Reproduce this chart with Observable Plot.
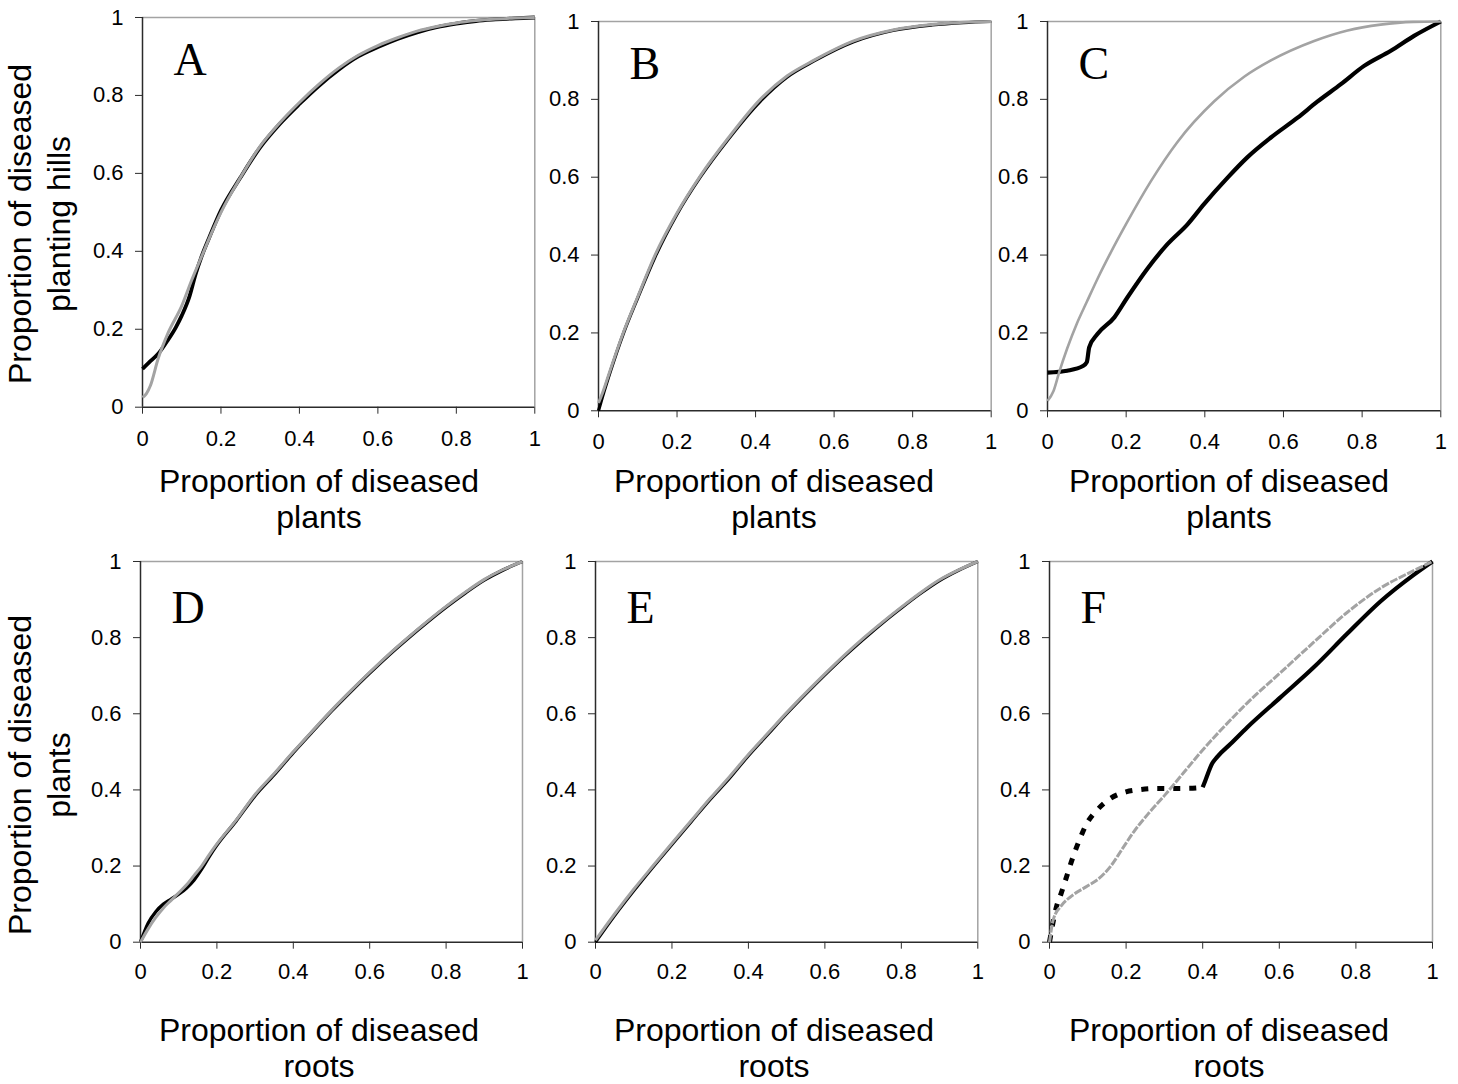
<!DOCTYPE html>
<html><head><meta charset="utf-8">
<script src="https://cdn.jsdelivr.net/npm/d3@7"></script>
<script src="https://cdn.jsdelivr.net/npm/@observablehq/plot@0.6"></script>
<style>
body{margin:0;background:#fff;}
#fig{position:relative;width:1458px;height:1084px;background:#fff;overflow:hidden;}
#fig svg{position:absolute;}
</style></head><body><div id="fig"></div>
<script>
// ---------- data ----------
const ticks = [0, 0.2, 0.4, 0.6, 0.8, 1];
const panelLetters = ["A", "B", "C", "D", "E", "F"];
const xTitleTop = ["Proportion of diseased", "plants"];
const xTitleBottom = ["Proportion of diseased", "roots"];
const yTitleTop = ["Proportion of diseased", "planting hills"];
const yTitleBottom = ["Proportion of diseased", "plants"];

const A_black = [[0,0.098],[0.02,0.118],[0.04,0.137],[0.064,0.171],[0.085,0.205],[0.1,0.235],[0.12,0.285],[0.135,0.34],[0.15,0.385],[0.17,0.435],[0.2,0.505],[0.25,0.59],[0.3,0.667],[0.35,0.727],[0.4,0.778],[0.45,0.825],[0.5,0.866],[0.55,0.9],[0.6,0.924],[0.65,0.945],[0.7,0.962],[0.75,0.975],[0.8,0.984],[0.85,0.991],[0.9,0.995],[0.95,0.998],[1,1]];
const A_gray = [[0,0.025],[0.01,0.035],[0.02,0.055],[0.04,0.125],[0.065,0.19],[0.1,0.26],[0.125,0.325],[0.15,0.385],[0.175,0.445],[0.2,0.5],[0.25,0.59],[0.3,0.67],[0.35,0.73],[0.4,0.782],[0.45,0.829],[0.5,0.87],[0.55,0.903],[0.6,0.928],[0.65,0.948],[0.7,0.965],[0.75,0.977],[0.8,0.986],[0.85,0.992],[0.9,0.996],[0.95,0.999],[1,1]];

const B_black = [[0,0],[0.01,0.035],[0.03,0.1],[0.064,0.2],[0.1,0.29],[0.144,0.395],[0.2,0.505],[0.259,0.6],[0.33,0.697],[0.412,0.795],[0.48,0.857],[0.548,0.898],[0.65,0.948],[0.75,0.977],[0.85,0.991],[0.93,0.997],[1,1]];
const B_gray = [[0,0.02],[0.01,0.045],[0.03,0.105],[0.064,0.203],[0.1,0.293],[0.144,0.4],[0.2,0.508],[0.259,0.603],[0.33,0.7],[0.412,0.8],[0.48,0.86],[0.548,0.9],[0.65,0.95],[0.75,0.978],[0.85,0.992],[0.93,0.998],[1,1]];

const C_black = [[0,0.098],[0.05,0.103],[0.09,0.115],[0.1,0.125],[0.106,0.163],[0.127,0.197],[0.17,0.24],[0.203,0.291],[0.254,0.365],[0.305,0.428],[0.356,0.479],[0.398,0.531],[0.458,0.599],[0.508,0.651],[0.568,0.702],[0.636,0.753],[0.686,0.794],[0.746,0.839],[0.805,0.886],[0.873,0.925],[0.932,0.963],[1,1]];
const C_gray = [[0,0.025],[0.015,0.05],[0.03,0.1],[0.05,0.16],[0.075,0.225],[0.1,0.28],[0.13,0.345],[0.16,0.405],[0.2,0.48],[0.263,0.59],[0.33,0.69],[0.424,0.795],[0.5,0.858],[0.568,0.9],[0.678,0.95],[0.763,0.977],[0.847,0.992],[0.93,0.999],[1,1]];

const D_black = [[0,0],[0.02,0.05],[0.04,0.08],[0.06,0.1],[0.08,0.113],[0.1,0.126],[0.12,0.142],[0.14,0.163],[0.16,0.192],[0.18,0.225],[0.2,0.255],[0.25,0.318],[0.3,0.385],[0.35,0.44],[0.4,0.498],[0.45,0.553],[0.5,0.607],[0.55,0.658],[0.6,0.707],[0.65,0.754],[0.7,0.798],[0.75,0.84],[0.8,0.88],[0.85,0.917],[0.9,0.951],[0.95,0.978],[1,1]];
const D_gray = [[0,0],[0.02,0.035],[0.04,0.065],[0.06,0.09],[0.08,0.11],[0.1,0.13],[0.12,0.15],[0.14,0.175],[0.16,0.2],[0.18,0.23],[0.2,0.258],[0.25,0.32],[0.3,0.388],[0.35,0.443],[0.4,0.5],[0.45,0.555],[0.5,0.609],[0.55,0.66],[0.6,0.709],[0.65,0.756],[0.7,0.8],[0.75,0.842],[0.8,0.882],[0.85,0.919],[0.9,0.953],[0.95,0.979],[1,1]];

const E_black = [[0,0],[0.05,0.07],[0.1,0.135],[0.15,0.197],[0.2,0.257],[0.25,0.316],[0.3,0.375],[0.35,0.43],[0.4,0.49],[0.45,0.545],[0.5,0.6],[0.55,0.652],[0.6,0.702],[0.65,0.75],[0.7,0.795],[0.75,0.838],[0.8,0.878],[0.85,0.916],[0.9,0.95],[0.95,0.977],[1,1]];
const E_gray = [[0,0.005],[0.05,0.074],[0.1,0.139],[0.15,0.2],[0.2,0.26],[0.25,0.319],[0.3,0.378],[0.35,0.434],[0.4,0.493],[0.45,0.548],[0.5,0.603],[0.55,0.655],[0.6,0.705],[0.65,0.753],[0.7,0.798],[0.75,0.84],[0.8,0.88],[0.85,0.918],[0.9,0.952],[0.95,0.978],[1,1]];

const F_blackDashed = [[0,0],[0.006,0.035],[0.019,0.096],[0.03,0.127],[0.043,0.167],[0.057,0.211],[0.076,0.263],[0.097,0.311],[0.125,0.348],[0.158,0.377],[0.2,0.395],[0.237,0.401],[0.28,0.404],[0.324,0.404],[0.359,0.404],[0.385,0.405],[0.4,0.407]];
const F_blackSolid = [[0.4,0.407],[0.407,0.425],[0.425,0.47],[0.438,0.487],[0.473,0.521],[0.516,0.564],[0.603,0.643],[0.69,0.722],[0.777,0.81],[0.864,0.895],[0.951,0.965],[1,1]];
const F_gray = [[0,0],[0.01,0.06],[0.03,0.095],[0.06,0.123],[0.1,0.148],[0.13,0.168],[0.16,0.2],[0.19,0.245],[0.22,0.29],[0.26,0.34],[0.3,0.385],[0.35,0.445],[0.4,0.505],[0.45,0.56],[0.516,0.628],[0.603,0.708],[0.69,0.788],[0.777,0.866],[0.864,0.93],[0.951,0.976],[1,1]];

// ---------- style / layout ----------
const SANS = "'Liberation Sans', Arial, sans-serif";
const SERIF = "'Liberation Serif', 'Times New Roman', serif";
const GRAY = "#a3a3a3";
const AXIS = "#2b2b2b";

const panels = [
  {letter: panelLetters[0], left: 141.7, top: 17,   w: 392.3, h: 389.7, row: 0, series: [{d: A_black, c: "#000", sw: 3.8}, {d: A_gray, c: GRAY, sw: 3}]},
  {letter: panelLetters[1], left: 598.3, top: 20.7, w: 392.7, h: 389.3, row: 0, series: [{d: B_black, c: "#000", sw: 3.2}, {d: B_gray, c: GRAY, sw: 3}]},
  {letter: panelLetters[2], left: 1046.7, top: 20.7, w: 393.3, h: 389.3, row: 0, series: [{d: C_black, c: "#000", sw: 4.2}, {d: C_gray, c: GRAY, sw: 2.6}]},
  {letter: panelLetters[3], left: 140,   top: 561,  w: 382,   h: 380.7, row: 1, series: [{d: D_black, c: "#000", sw: 3.4}, {d: D_gray, c: GRAY, sw: 3}]},
  {letter: panelLetters[4], left: 595,   top: 561,  w: 382.3, h: 380.7, row: 1, series: [{d: E_black, c: "#000", sw: 3.2}, {d: E_gray, c: GRAY, sw: 3}]},
  {letter: panelLetters[5], left: 1049,  top: 561,  w: 383,   h: 380.7, row: 1, series: [
      {d: F_blackDashed, c: "#000", sw: 5, dash: "7,9"},
      {d: F_blackSolid, c: "#000", sw: 4.2},
      {d: F_gray, c: GRAY, sw: 3, dash: "8,1.5"}]}
];

const fig = document.getElementById("fig");
const fmt = d => String(d);

for (const p of panels) {
  const mL = 70, mR = 20, mT = 20, mB = 50;
  const marks = [
    Plot.ruleX([1], {stroke: GRAY, strokeWidth: 1.5}),
    Plot.ruleY([1], {stroke: GRAY, strokeWidth: 1.5}),
    Plot.axisX({ticks, tickFormat: fmt, tickSize: 7, tickPadding: p.row === 0 ? 16 : 14, label: null, stroke: AXIS, fill: "#000", fontSize: 22, fontFamily: SANS}),
    Plot.axisY({ticks, tickFormat: fmt, tickSize: 7, tickPadding: 12, label: null, stroke: AXIS, fill: "#000", fontSize: 22, fontFamily: SANS}),
    Plot.ruleX([0], {stroke: AXIS, strokeWidth: 1.5}),
    Plot.ruleY([0], {stroke: AXIS, strokeWidth: 1.5})
  ];
  for (const s of p.series) {
    marks.push(Plot.line(s.d, {x: d => d[0], y: d => d[1], stroke: s.c, strokeWidth: s.sw, curve: "monotone-x",
      strokeDasharray: s.dash || null, strokeLinecap: "butt", strokeLinejoin: "round"}));
  }
  marks.push(Plot.text([p.letter], {text: d => d, frameAnchor: "top-left", dx: 31, dy: p.row === 0 ? 58 : 62,
    textAnchor: "start", lineAnchor: "bottom", fontFamily: SERIF, fontSize: 46, fill: "#000"}));

  const svg = Plot.plot({
    width: p.w + mL + mR, height: p.h + mT + mB,
    marginLeft: mL, marginRight: mR, marginTop: mT, marginBottom: mB,
    x: {domain: [0, 1]}, y: {domain: [0, 1]},
    style: {fontFamily: SANS, fontSize: "22px", color: "#000", background: "transparent", overflow: "visible"},
    marks
  });
  svg.style.left = (p.left - mL) + "px";
  svg.style.top = (p.top - mT) + "px";
  fig.appendChild(svg);
}

// ---------- axis titles (overlay) ----------
const ns = "http://www.w3.org/2000/svg";
const ov = document.createElementNS(ns, "svg");
ov.setAttribute("width", 1458); ov.setAttribute("height", 1084);
ov.style.left = "0px"; ov.style.top = "0px"; ov.style.pointerEvents = "none";
fig.appendChild(ov);
function addText(str, x, y, rot) {
  const t = document.createElementNS(ns, "text");
  t.textContent = str;
  t.setAttribute("text-anchor", "middle");
  t.setAttribute("font-family", SANS);
  t.setAttribute("font-size", "32px");
  t.setAttribute("fill", "#000");
  if (rot) t.setAttribute("transform", `translate(${x},${y}) rotate(-90)`);
  else { t.setAttribute("x", x); t.setAttribute("y", y); }
  ov.appendChild(t);
}
const xCenters = [319, 774, 1229];
for (const cx of xCenters) {
  addText(xTitleTop[0], cx, 492, false);
  addText(xTitleTop[1], cx, 528, false);
  addText(xTitleBottom[0], cx, 1041, false);
  addText(xTitleBottom[1], cx, 1077, false);
}
addText(yTitleTop[0], 31, 224, true);
addText(yTitleTop[1], 70, 224, true);
addText(yTitleBottom[0], 31, 775, true);
addText(yTitleBottom[1], 70, 775, true);
</script></body></html>
